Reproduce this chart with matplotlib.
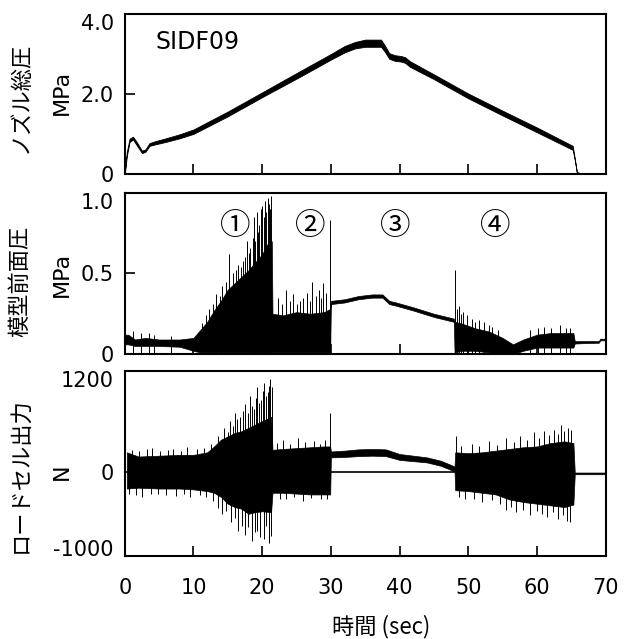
import numpy as np
import matplotlib
matplotlib.use('Agg')
import matplotlib.pyplot as plt

plt.rcParams['font.family'] = ['DejaVu Sans', 'Noto Sans CJK JP']

# ---- ノズル総圧 (MPa): band
noz_t = [0, 0.3, 0.7, 1.2, 1.8, 2.5, 3.0, 3.6, 4.5, 6, 8, 10, 15, 20, 25.5, 30,
         32, 33.5, 35, 37.3, 37.8, 38.5, 39.3, 40.2, 40.8, 41.5, 45, 50, 55, 60,
         65.2, 65.5, 65.8, 66.2, 70]
noz_lo = [0, 0.45, 0.8, 0.86, 0.7, 0.52, 0.55, 0.7, 0.74, 0.8, 0.89, 1.0, 1.44,
          1.92, 2.43, 2.86, 3.04, 3.14, 3.18, 3.18, 3.07, 2.88, 2.83, 2.81, 2.78,
          2.68, 2.37, 1.89, 1.46, 1.04, 0.6, 0.35, 0.03, 0.0, 0.0]
noz_hi = [0.05, 0.55, 0.88, 0.93, 0.78, 0.58, 0.61, 0.77, 0.82, 0.89, 0.99, 1.11,
          1.56, 2.04, 2.57, 3.0, 3.2, 3.3, 3.36, 3.36, 3.23, 3.02, 2.97, 2.95,
          2.92, 2.82, 2.49, 2.01, 1.58, 1.16, 0.7, 0.38, 0.05, 0.02, 0.02]

# ---- 模型前面圧 (MPa)
fp_t = [0, 0.5, 1.5, 3, 5, 8, 10, 11, 12, 13, 14, 15, 16, 17, 18, 19, 20, 21,
        21.4, 21.5, 23, 25, 27, 29, 29.9, 30.0, 32, 34, 36, 37.5, 38.5, 39.5,
        42, 45, 47.9, 48.0, 49, 51, 53, 55, 56.5, 58, 60, 62, 64, 65.3, 65.5,
        67, 69, 69.2, 70]
fp_hi = [0.12, 0.12, 0.09, 0.1, 0.09, 0.09, 0.1, 0.15, 0.2, 0.27, 0.33, 0.4,
         0.44, 0.48, 0.52, 0.57, 0.62, 0.7, 0.7, 0.25, 0.24, 0.26, 0.25, 0.26,
         0.28, 0.33, 0.34, 0.36, 0.37, 0.37, 0.33, 0.32, 0.29, 0.25, 0.22, 0.2,
         0.19, 0.16, 0.14, 0.1, 0.06, 0.09, 0.12, 0.13, 0.13, 0.13, 0.08, 0.08,
         0.08, 0.095, 0.095]
fp_lo = [0.06, 0.06, 0.05, 0.05, 0.05, 0.045, 0.02, 0.01, 0.01, 0.01, 0.01,
         0.01, 0.01, 0.01, 0.01, 0.01, 0.01, 0.01, 0.01, 0.01, 0.01, 0.01, 0.01,
         0.01, 0.01, 0.31, 0.32, 0.34, 0.35, 0.35, 0.31, 0.3, 0.27, 0.23, 0.2,
         0.01, 0.02, 0.02, 0.01, 0.0, 0.0, 0.02, 0.04, 0.04, 0.04, 0.04, 0.065,
         0.068, 0.07, 0.085, 0.085]
fp_spike_t = [1.2, 2.3, 3.5, 4.2, 6.8, 11.2, 11.8, 12.3, 12.8, 13.3, 13.8, 14.2,
              14.7, 15.2, 15.8, 16.2, 16.5, 16.9, 17.2, 17.5, 17.8, 18.1, 18.3,
              18.6, 18.8, 19.0, 19.2, 19.4, 19.6, 19.8, 20.0, 20.2, 20.4, 20.6,
              20.8, 21.0, 21.1, 21.3,
              22.3, 22.9, 23.5, 24.0, 24.5, 25.0, 25.5, 26.0, 26.5, 27.0, 27.3,
              27.8, 28.2, 28.5, 28.8, 29.3, 29.9,
              48.0, 48.4, 48.6, 49.0, 49.3, 49.8, 50.5, 51.0, 51.5, 52.3, 53.0,
              53.5, 54.3, 59.0, 60.2, 61.0, 62.1, 63.3, 64.2, 64.8]
fp_spike_top = [0.14, 0.13, 0.13, 0.12, 0.11, 0.19, 0.24, 0.28, 0.31, 0.37,
                0.36, 0.42, 0.45, 0.62, 0.5, 0.52, 0.55, 0.54, 0.58, 0.6, 0.7,
                0.63, 0.66, 0.72, 0.85, 0.7, 0.88, 0.76, 0.8, 0.9, 0.92, 0.85,
                0.95, 0.88, 0.97, 0.93, 0.9, 0.98,
                0.35, 0.31, 0.4, 0.33, 0.37, 0.31, 0.33, 0.35, 0.38, 0.33, 0.45,
                0.36, 0.4, 0.35, 0.44, 0.38, 0.83,
                0.52, 0.28, 0.3, 0.25, 0.26, 0.24, 0.22, 0.2, 0.21, 0.2, 0.18,
                0.17, 0.15, 0.15, 0.16, 0.17, 0.16, 0.18, 0.16, 0.16]
fp_labels = ['①', '②', '③', '④']
fp_label_t = [16.1, 27.0, 39.4, 53.9]

# ---- ロードセル出力 (N)
lc_t = [0.3, 2, 5, 8, 10, 12, 13, 14, 15, 16, 17, 18, 19, 20, 21.3, 21.5, 23,
        25, 27, 29, 29.9, 30.0, 32, 34, 36, 38, 40, 42, 44, 46, 47.5, 48.0,
        48.1, 50, 52, 54, 56, 58, 60, 62, 64, 65.3, 65.5, 70]
lc_hi = [230, 180, 190, 200, 200, 230, 300, 380, 420, 460, 480, 520, 560, 600,
         650, 260, 270, 280, 290, 300, 300, 240, 250, 265, 270, 265, 210, 190,
         170, 130, 80, 60, 230, 220, 230, 250, 270, 290, 300, 340, 360, 340,
         -10, -10]
lc_lo = [-200, -190, -200, -200, -210, -230, -250, -300, -380, -420, -440, -500,
         -480, -470, -480, -250, -250, -260, -270, -270, -270, 170, 175, 185,
         190, 185, 140, 125, 110, 70, 20, 0, -220, -230, -250, -270, -330, -360,
         -380, -400, -420, -390, -30, -30]
lc_zero_t = [30, 48]
lc_spike_t = [1, 2, 3.2, 4, 5.1, 6.3, 7, 8.2, 9, 10.5, 11.6,
              0.6, 1.6, 2.5, 3.8, 4.8, 6, 7.4, 8.6, 9.5, 10.9, 11.8,
              12.6, 13.5, 14.0, 14.5, 15.0, 15.3, 15.7, 16.0, 16.4, 16.8, 17.2,
              17.5, 17.9, 18.2, 18.5, 18.8, 19.1, 19.3, 19.6, 19.8, 20.1, 20.3,
              20.6, 20.8, 21.0, 21.2, 21.4,
              12.9, 13.6, 14.2, 14.8, 15.5, 16.0, 16.5, 17.0, 17.5, 18.0, 18.5,
              18.9, 19.3, 19.7, 20.2, 20.6, 21.0, 21.3,
              22.2, 23.0, 24.1, 25.2, 26.3, 27.5, 28.4, 29.2, 29.9,
              22.6, 23.5, 24.7, 26.0, 27.1, 28.5, 29.5,
              48.2, 49.0, 50.5, 51.6, 53.0, 54.2, 55.5, 56.6, 57.5, 58.5, 59.5,
              60.3, 61.0, 61.8, 62.5, 63.1, 63.5, 64.0, 64.5, 65.0,
              48.6, 49.5, 50.8, 52.0, 53.4, 54.6, 55.5, 56.2, 57.0, 58.0, 59.0,
              60.0, 60.8, 61.5, 62.3, 63.0, 63.8, 64.4, 64.8]
lc_spike_val = [260, 240, 270, 280, 250, 260, 270, 250, 290, 270, 280,
                -260, -280, -300, -270, -260, -280, -290, -260, -300, -280, -300,
                330, 420, 380, 520, 470, 600, 540, 700, 620, 650, 720,
                800, 700, 900, 780, 750, 880, 1000, 820, 850, 960, 1050,
                900, 950, 1020, 1100, 1000,
                -350, -430, -500, -470, -600, -550, -700, -640, -750, -660,
                -820, -720, -700, -780, -800, -650, -850, -760,
                340, 380, 330, 400, 350, 360, 330, 380, 700,
                -320, -330, -300, -350, -310, -330, -320,
                420, 300, 330, 300, 360, 320, 400, 350, 420, 380, 470,
                400, 480, 430, 500, 450, 560, 480, 520, 500,
                -300, -330, -320, -360, -340, -380, -460, -420, -480, -450,
                -520, -470, -500, -540, -480, -560, -520, -580, -600]

fig = plt.figure(figsize=(6.27, 6.39), dpi=100)
ax1 = fig.add_axes([0.199, 0.728, 0.767, 0.250])
ax2 = fig.add_axes([0.199, 0.446, 0.767, 0.252])
ax3 = fig.add_axes([0.199, 0.130, 0.767, 0.290])

ax1.fill_between(noz_t, noz_lo, noz_hi, color='black', lw=0.6)
ax1.text(4.5, 3.3, 'SIDF09', fontsize=17, va='center')

ax2.fill_between(fp_t, fp_lo, fp_hi, color='black', lw=0.5)
ax2.vlines(fp_spike_t, 0, fp_spike_top, color='black', lw=0.7)
for lab, t in zip(fp_labels, fp_label_t):
    ax2.text(t, 0.79, lab, fontsize=22, ha='center', va='center',
             family=['Noto Sans CJK JP'])

ax3.fill_between(lc_t, lc_lo, lc_hi, color='black', lw=0.5)
ax3.hlines(0, lc_zero_t[0], lc_zero_t[1], color='black', lw=1.2)
ax3.vlines(lc_spike_t, 0, lc_spike_val, color='black', lw=0.7)

for ax in (ax1, ax2, ax3):
    ax.set_xlim(0, 70)
    ax.set_xticks(np.arange(0, 71, 10))
    ax.tick_params(direction='in', length=7, width=1.2, labelsize=15, pad=8)
    for s in ax.spines.values():
        s.set_linewidth(1.5)

ax1.set_xticklabels([])
ax2.set_xticklabels([])
ax3.tick_params(axis='x', pad=16)

ax1.set_ylim(0, 4.0)
ax1.set_yticks([0, 2, 4])
ax1.set_yticklabels(['0', '2.0', '4.0'])
ax2.set_ylim(0, 1.0)
ax2.set_yticks([0, 0.5, 1.0])
ax2.set_yticklabels(['0', '0.5', '1.0'])
ax3.set_ylim(-1000, 1200)
ax3.set_yticks([-1000, 0, 1200])
ax3.set_yticklabels(['-1000', '0', '1200'])

# top labels hang below the axes' upper edge, as in the original
for ax in (ax1, ax2, ax3):
    ax.yaxis.get_major_ticks()[-1].label1.set_va('top')
ax3.yaxis.get_major_ticks()[0].label1.set_va('baseline')

jp = dict(rotation=90, ha='center', va='center', fontsize=16,
          family=['Noto Sans CJK JP'])
fig.text(0.032, 0.847, 'ノズル総圧', **jp)
fig.text(0.032, 0.560, '模型前面圧', **jp)
fig.text(0.032, 0.257, 'ロードセル出力', **jp)
fig.text(0.099, 0.856, 'MPa', rotation=90, ha='center', va='center', fontsize=16)
fig.text(0.099, 0.570, 'MPa', rotation=90, ha='center', va='center', fontsize=16)
fig.text(0.099, 0.261, 'N', rotation=90, ha='center', va='center', fontsize=16)
fig.text(0.608, 0.019, '時間 (sec)', ha='center', va='center', fontsize=16,
         family=['Noto Sans CJK JP', 'DejaVu Sans'])

fig.savefig('out.png', dpi=100)
